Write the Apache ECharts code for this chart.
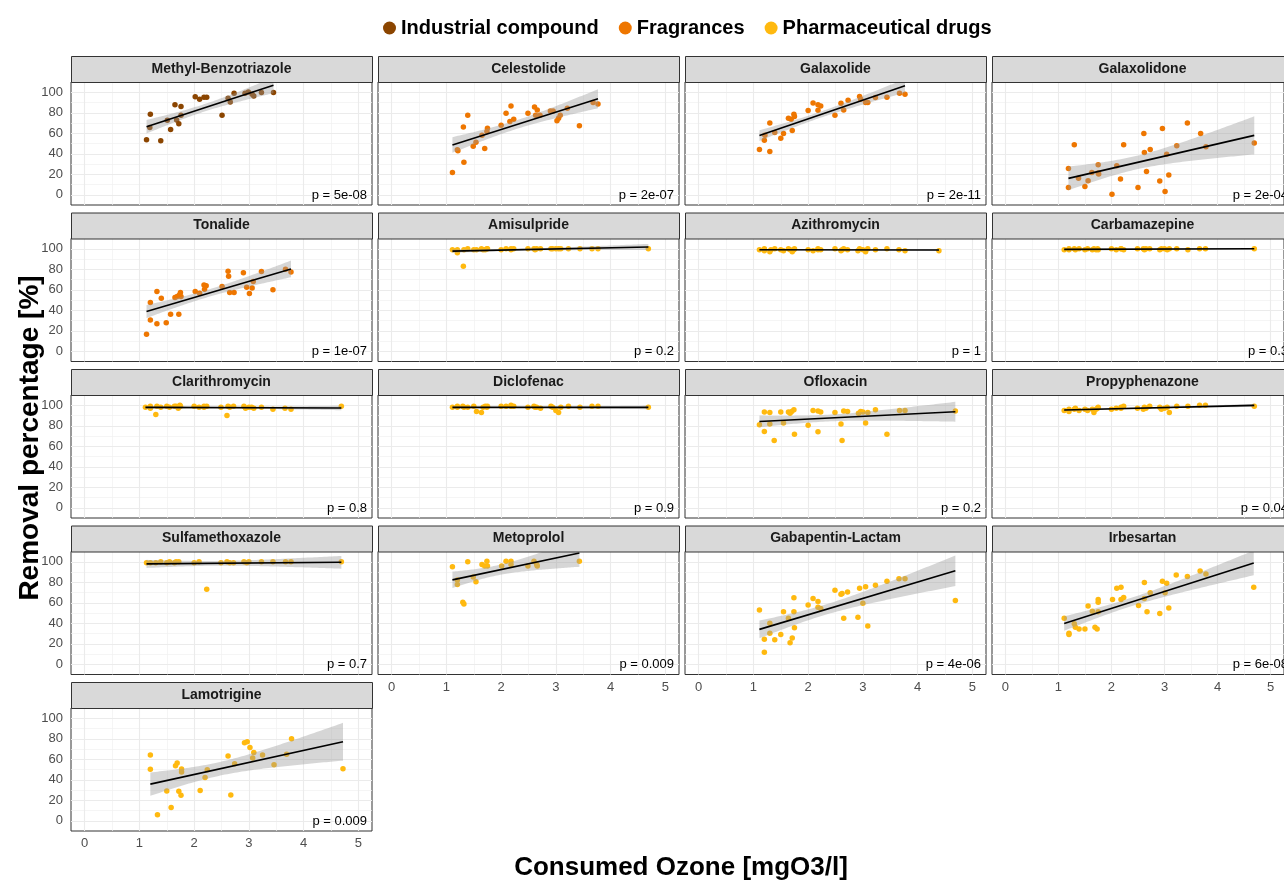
<!DOCTYPE html>
<html>
<head>
<meta charset="utf-8">
<script src="https://cdn.jsdelivr.net/npm/echarts@6/dist/echarts.min.js"></script>
<style>
html, body { margin: 0; padding: 0; background: #fff; }
#chart { width: 1284px; height: 880px; }
</style>
</head>
<body>
<div id="chart"></div>
<script>
// facet titles, in reading order
const compounds = [
    'Methyl-Benzotriazole', 'Celestolide', 'Galaxolide', 'Galaxolidone',
    'Tonalide', 'Amisulpride', 'Azithromycin', 'Carbamazepine',
    'Clarithromycin', 'Diclofenac', 'Ofloxacin', 'Propyphenazone',
    'Sulfamethoxazole', 'Metoprolol', 'Gabapentin-Lactam', 'Irbesartan',
    'Lamotrigine'
];
const groups = ['Industrial compound', 'Fragrances', 'Pharmaceutical drugs'];
const compoundGroup = [0, 1, 1, 1, 1, 2, 2, 2, 2, 2, 2, 2, 2, 2, 2, 2, 2];
const pValues = [
    'p = 5e-08', 'p = 2e-07', 'p = 2e-11', 'p = 2e-04',
    'p = 1e-07', 'p = 0.2', 'p = 1', 'p = 0.3',
    'p = 0.8', 'p = 0.9', 'p = 0.2', 'p = 0.04',
    'p = 0.7', 'p = 0.009', 'p = 4e-06', 'p = 6e-08',
    'p = 0.009'
];
const xTicks = [0, 1, 2, 3, 4, 5];
const yTicks = [0, 20, 40, 60, 80, 100];
const xGridMajor = [0, 1, 2, 3, 4, 5];
const xGridMinor = [0.5, 1.5, 2.5, 3.5, 4.5];
const yGridMajor = [0, 20, 40, 60, 80, 100];
const yGridMinor = [10, 30, 50, 70, 90];

// measured points [consumed ozone, removal %]
const methylBenzotriazole = [[1.13,53.6],[1.20,78.6],[1.19,65.6],[1.39,52.6],[1.51,72.7],[1.57,63.6],[1.65,87.7],[1.68,73],[1.72,69.2],[1.76,86],[1.76,77.6],[2.02,95.5],[2.10,93.2],[2.18,95.1],[2.23,95.1],[2.51,77.6],[2.62,94.2],[2.66,90.6],[2.73,99],[2.93,99],[2.99,100.3],[3.06,98],[3.09,96.4],[3.23,99.7],[3.45,99.7]];
const celestolide = [[1.11,21.8],[1.20,43.8],[1.21,42.9],[1.32,31.8],[1.31,66.2],[1.39,77.6],[1.49,47.4],[1.54,51.3],[1.65,58.1],[1.70,45.1],[1.74,61.7],[1.75,64.9],[2.00,67.9],[2.09,79.5],[2.16,71.4],[2.23,73.7],[2.18,86.7],[2.49,79.5],[2.61,85.7],[2.66,82.8],[2.63,77.6],[2.71,77.6],[2.90,81.8],[2.95,81.8],[3.02,72.1],[3.05,74.7],[3.08,77.6],[3.21,84.4],[3.43,67.2],[3.68,89.9],[3.77,88.6]];
const galaxolide = [[1.11,44.2],[1.20,53.2],[1.21,58.1],[1.30,42.2],[1.30,70.1],[1.39,60.7],[1.50,55.2],[1.55,59.7],[1.64,74.7],[1.69,73.7],[1.71,62.7],[1.74,78.6],[1.75,76.3],[2.00,82.1],[2.09,89.6],[2.18,87.7],[2.18,82.5],[2.23,86.7],[2.49,77.6],[2.60,89.3],[2.65,82.8],[2.73,92.2],[2.94,95.8],[2.96,93.2],[3.05,89.9],[3.09,89.9],[3.23,94.8],[3.44,95.1],[3.67,99],[3.77,98]];
const galaxolidone = [[1.19,25.6],[1.19,7.1],[1.30,48.7],[1.38,16.2],[1.50,8.1],[1.56,13.6],[1.63,21.8],[1.75,29.2],[1.75,21.1],[1.76,20.2],[2.01,0.6],[2.10,28.2],[2.17,15.3],[2.23,48.7],[2.50,7.1],[2.61,59.7],[2.62,41.2],[2.66,22.7],[2.73,44.2],[2.91,13.3],[2.96,64.6],[3.01,3.2],[3.04,39.6],[3.08,19.2],[3.23,47.7],[3.43,70.1],[3.68,59.7],[3.78,46.8],[4.69,50.6]];
const tonalide = [[1.13,16.5],[1.20,47.6],[1.20,30.4],[1.32,58.3],[1.32,26.9],[1.40,51.8],[1.49,27.8],[1.57,36.2],[1.65,52.4],[1.69,53.4],[1.72,36.2],[1.73,55],[1.75,57.3],[1.76,53.4],[2.02,58.3],[2.10,56.6],[2.18,64.7],[2.22,63.8],[2.19,60.5],[2.51,63.1],[2.62,78],[2.63,73.1],[2.65,57.3],[2.73,57.3],[2.90,76.7],[2.96,62.5],[3.01,56.3],[3.06,61.8],[3.08,68],[3.23,77.7],[3.44,59.9],[3.67,79.9],[3.77,77.3]];
const amisulpride = [[1.11,99],[1.20,96],[1.20,99],[1.31,83],[1.32,99],[1.39,100],[1.50,99],[1.55,99],[1.64,100],[1.67,99],[1.71,99],[1.74,100],[1.75,100],[2.00,99],[2.09,100],[2.18,100],[2.18,99],[2.23,100],[2.49,100],[2.60,100],[2.62,99],[2.65,100],[2.72,100],[2.91,100],[2.94,100],[3.00,100],[3.05,100],[3.09,100],[3.23,100],[3.44,100],[3.66,100],[3.77,100],[4.69,100]];
const azithromycin = [[1.11,99],[1.20,98],[1.20,100],[1.30,97],[1.32,99],[1.39,100],[1.50,99],[1.55,98],[1.64,100],[1.67,99],[1.71,97],[1.74,99],[1.75,100],[2.00,99],[2.09,98],[2.18,100],[2.18,99],[2.23,99],[2.49,100],[2.60,98],[2.62,99],[2.65,100],[2.72,99],[2.91,98],[2.94,100],[3.00,99],[3.05,97],[3.09,100],[3.23,99],[3.44,100],[3.66,99],[3.77,98],[4.39,98]];
const carbamazepine = [[1.11,99],[1.20,100],[1.20,99],[1.30,100],[1.32,99],[1.39,100],[1.50,99],[1.55,100],[1.64,99],[1.67,100],[1.71,99],[1.74,100],[1.75,99],[2.00,100],[2.09,99],[2.18,100],[2.18,100],[2.23,99],[2.49,100],[2.60,100],[2.62,99],[2.65,100],[2.72,100],[2.91,99],[2.94,100],[3.00,100],[3.05,99],[3.09,100],[3.23,100],[3.44,99],[3.66,100],[3.77,100],[4.69,100]];
const clarithromycin = [[1.11,98],[1.20,99],[1.20,97],[1.30,91],[1.32,99],[1.39,98],[1.50,99],[1.55,98],[1.64,99],[1.67,99],[1.71,97],[1.74,100],[1.75,99],[2.00,99],[2.09,98],[2.18,99],[2.18,98],[2.23,99],[2.49,98],[2.60,90],[2.62,99],[2.65,98],[2.72,99],[2.91,99],[2.94,97],[3.00,98],[3.05,98],[3.09,97],[3.23,98],[3.44,96],[3.66,97],[3.77,96],[4.69,99]];
const diclofenac = [[1.11,98],[1.20,99],[1.20,98],[1.30,99],[1.32,98],[1.39,98],[1.50,99],[1.55,94],[1.64,93],[1.67,98],[1.71,99],[1.74,98],[1.75,99],[2.00,99],[2.09,99],[2.18,100],[2.18,99],[2.23,99],[2.49,98],[2.60,99],[2.62,98],[2.65,98],[2.72,97],[2.91,99],[2.94,98],[3.00,95],[3.05,93],[3.09,98],[3.23,99],[3.44,98],[3.66,99],[3.77,99],[4.69,98]];
const ofloxacin = [[1.11,81],[1.20,93.5],[1.20,74.5],[1.30,92.9],[1.30,81.6],[1.38,65.5],[1.50,93.5],[1.55,82.6],[1.64,93.5],[1.67,92.3],[1.70,93.9],[1.74,95.5],[1.75,71.6],[2.00,80.6],[2.09,94.8],[2.18,94.5],[2.23,93.5],[2.18,74.2],[2.49,92.9],[2.60,81.6],[2.62,65.5],[2.65,94.5],[2.72,93.9],[2.92,92.3],[2.96,93.9],[3.00,93.5],[3.05,82.6],[3.09,92.9],[3.23,95.5],[3.44,71.6],[3.67,94.8],[3.77,94.8],[4.69,94.5]];
const propyphenazone = [[1.11,95],[1.20,96],[1.20,94],[1.30,96],[1.32,97],[1.39,95],[1.50,96],[1.55,95],[1.64,96],[1.67,93],[1.71,96],[1.74,97],[1.75,98],[2.00,96],[2.09,97],[2.18,98],[2.18,97],[2.23,99],[2.49,97],[2.60,96],[2.62,98],[2.65,97],[2.72,99],[2.91,98],[2.94,96],[3.00,97],[3.05,98],[3.09,93],[3.23,99],[3.44,99],[3.66,100],[3.77,100],[4.69,99]];
const sulfamethoxazole = [[1.13,99],[1.20,99],[1.30,99],[1.39,100],[1.50,99],[1.55,100],[1.64,99],[1.67,100],[1.72,100],[2.00,99],[2.09,100],[2.23,73.2],[2.49,99],[2.60,100],[2.65,99],[2.72,99],[2.91,100],[2.96,99],[3.00,100],[3.23,100],[3.44,100],[3.67,100],[3.77,100],[4.69,100]];
const metoprolol = [[1.11,95.2],[1.20,82.3],[1.20,77.7],[1.30,60.6],[1.32,58.7],[1.39,100],[1.49,85.2],[1.54,80.6],[1.65,97.4],[1.70,95.8],[1.74,100.6],[1.75,95.8],[2.01,95.8],[2.09,100.6],[2.18,100.6],[2.18,97.4],[2.49,95.8],[2.60,100.6],[2.65,97.4],[2.66,95.8],[3.43,100.6]];
const gabapentinLactam = [[1.11,52.9],[1.20,24.5],[1.20,11.6],[1.30,40],[1.30,30.3],[1.39,23.9],[1.50,29],[1.55,51.3],[1.64,44.8],[1.67,21],[1.71,25.5],[1.74,64.8],[1.74,51.3],[1.75,35.5],[2.00,57.7],[2.09,64.2],[2.18,61.3],[2.18,55.5],[2.23,54.5],[2.49,72.3],[2.60,68.4],[2.62,69],[2.65,44.8],[2.72,70.6],[2.91,45.8],[2.94,74.2],[3.00,59.4],[3.05,75.5],[3.09,37.4],[3.23,77.1],[3.44,81],[3.66,83.5],[3.77,83.5],[4.69,62.3]];
const irbesartan = [[1.11,44.8],[1.20,30.3],[1.20,29],[1.30,39.4],[1.32,36.1],[1.39,34.5],[1.50,34.5],[1.56,56.8],[1.64,51.6],[1.69,36.1],[1.73,34.5],[1.75,63.2],[1.75,60.6],[1.75,51.3],[2.02,63.2],[2.10,74.2],[2.18,75.2],[2.18,63.2],[2.23,65.2],[2.51,57.4],[2.62,79.7],[2.62,64.2],[2.67,51.3],[2.73,69.7],[2.91,49.4],[2.96,81],[3.01,69.7],[3.04,79],[3.08,54.8],[3.22,87.1],[3.43,85.5],[3.67,91],[3.78,88.1],[4.68,75.2]];
const lamotrigine = [[1.20,64.1],[1.20,50.2],[1.33,5.8],[1.50,29.1],[1.58,12.9],[1.66,53.7],[1.69,56.3],[1.72,28.8],[1.76,24.9],[1.77,50.5],[1.77,47.6],[2.11,29.4],[2.20,42.1],[2.24,49.8],[2.62,63.1],[2.67,25.2],[2.74,55.7],[2.92,76],[2.97,77],[3.02,71.5],[3.07,61.2],[3.09,66.7],[3.25,64.1],[3.46,54.7],[3.69,65],[3.78,79.9],[4.72,50.8]];

const panelData = [
    methylBenzotriazole, celestolide, galaxolide, galaxolidone,
    tonalide, amisulpride, azithromycin, carbamazepine,
    clarithromycin, diclofenac, ofloxacin, propyphenazone,
    sulfamethoxazole, metoprolol, gabapentinLactam, irbesartan,
    lamotrigine
];

const groupColors = ['#8B4500', '#EE7600', '#FFB90F'];
const FONT = '"Liberation Sans", Arial, sans-serif';

// panel geometry (pixels)
const colLeft = [71, 378, 685, 992];
const panelW = 301;
const plotTop0 = 82;
const rowPitch = 156.5;
const plotH = 123;
const stripH = 26;

// t quantile (0.975) approximation
function tQuantile(df) {
    const z = 1.959964;
    return z + (z ** 3 + z) / (4 * df) +
        (5 * z ** 5 + 16 * z ** 3 + 3 * z) / (96 * df * df) +
        (3 * z ** 7 + 19 * z ** 5 + 17 * z ** 3 - 15 * z) / (384 * df ** 3);
}

// ordinary least squares + 95% confidence band, like geom_smooth(method = "lm")
function linFit(pts) {
    const n = pts.length;
    const xbar = pts.reduce((s, p) => s + p[0], 0) / n;
    const ybar = pts.reduce((s, p) => s + p[1], 0) / n;
    let sxx = 0, sxy = 0;
    pts.forEach(p => { sxx += (p[0] - xbar) ** 2; sxy += (p[0] - xbar) * (p[1] - ybar); });
    const b = sxy / sxx;
    const a = ybar - b * xbar;
    let rss = 0;
    pts.forEach(p => { rss += (p[1] - a - b * p[0]) ** 2; });
    const s = Math.sqrt(rss / (n - 2));
    const t = tQuantile(n - 2);
    const xs = pts.map(p => p[0]);
    return {
        a, b,
        xmin: Math.min(...xs),
        xmax: Math.max(...xs),
        half: x => t * s * Math.sqrt(1 / n + (x - xbar) ** 2 / sxx)
    };
}

const chart = echarts.init(document.getElementById('chart'));

const grids = [], xAxes = [], yAxes = [], series = [], graphics = [];

const majorStyle = { color: '#EBEBEB', width: 1.1, type: 'solid' };
const minorStyle = { color: '#F0F0F0', width: 0.7, type: 'solid' };

compounds.forEach((name, i) => {
    const r = Math.floor(i / 4), c = i % 4;
    const left = colLeft[c];
    const top = plotTop0 + r * rowPitch;
    const showX = i >= 13;
    const showY = c === 0;

    grids.push({
        left: left, top: top, width: panelW, height: plotH,
        show: true, backgroundColor: '#fff',
        borderColor: '#333333', borderWidth: 1, containLabel: false
    });

    xAxes.push({
        type: 'value', gridIndex: i, min: -0.25, max: 5.25, splitNumber: 5,
        axisLine: { show: false },
        axisTick: { show: showX, length: 4, customValues: xTicks, lineStyle: { color: '#333333' } },
        axisLabel: { show: showX, customValues: xTicks, color: '#4D4D4D', fontSize: 13, margin: 6, fontFamily: FONT },
        splitLine: { show: false },
        minorSplitLine: { show: false }
    });
    yAxes.push({
        type: 'value', gridIndex: i, min: -10, max: 110, splitNumber: 6,
        axisLine: { show: false },
        axisTick: { show: showY, length: 4, customValues: yTicks, lineStyle: { color: '#333333' } },
        axisLabel: { show: showY, customValues: yTicks, color: '#4D4D4D', fontSize: 13, margin: 8, fontFamily: FONT },
        splitLine: { show: false },
        minorSplitLine: { show: false }
    });

    // background grid lines
    series.push({
        type: 'line', xAxisIndex: i, yAxisIndex: i, data: [], z: 1, silent: true,
        markLine: {
            silent: true, symbol: 'none', animation: false, z: 1,
            label: { show: false },
            data: []
                .concat(xGridMinor.map(v => ({ xAxis: v, lineStyle: minorStyle })))
                .concat(yGridMinor.map(v => ({ yAxis: v, lineStyle: minorStyle })))
                .concat(xGridMajor.map(v => ({ xAxis: v, lineStyle: majorStyle })))
                .concat(yGridMajor.map(v => ({ yAxis: v, lineStyle: majorStyle })))
        }
    });

    const pts = panelData[i];
    const g = compoundGroup[i];
    const fit = linFit(pts);

    series.push({
        type: 'scatter', name: groups[g], xAxisIndex: i, yAxisIndex: i,
        data: pts, symbolSize: 5.5, z: 6,
        itemStyle: { color: groupColors[g], opacity: 1 },
        silent: true
    });

    // confidence band
    series.push({
        type: 'custom', xAxisIndex: i, yAxisIndex: i, z: 7, silent: true, clip: true,
        data: [[fit.xmin, fit.a + fit.b * fit.xmin]],
        renderItem: (params, api) => {
            const upper = [], lower = [];
            const steps = 80;
            for (let k = 0; k <= steps; k++) {
                const x = fit.xmin + (fit.xmax - fit.xmin) * k / steps;
                const y = fit.a + fit.b * x;
                upper.push(api.coord([x, y + fit.half(x)]));
                lower.unshift(api.coord([x, y - fit.half(x)]));
            }
            const cs = params.coordSys;
            return {
                type: 'group',
                clipPath: { type: 'rect', shape: { x: cs.x, y: cs.y, width: cs.width, height: cs.height } },
                children: [{
                    type: 'polygon',
                    shape: { points: upper.concat(lower) },
                    style: { fill: 'rgba(153,153,153,0.4)' }
                }]
            };
        }
    });

    // fitted line
    series.push({
        type: 'line', xAxisIndex: i, yAxisIndex: i, z: 8, silent: true,
        showSymbol: false, clip: true,
        data: [[fit.xmin, fit.a + fit.b * fit.xmin], [fit.xmax, fit.a + fit.b * fit.xmax]],
        lineStyle: { color: '#000', width: 1.6 }
    });

    // strip header
    graphics.push({
        type: 'rect', left: left, top: top - stripH, z: 100,
        shape: { width: panelW, height: stripH },
        style: { fill: '#D9D9D9', stroke: '#333333', lineWidth: 1 }
    });
    graphics.push({
        type: 'text', x: left + panelW / 2, y: top - stripH / 2, z: 101,
        style: {
            text: name, font: 'bold 14px ' + FONT, fill: '#1A1A1A',
            align: 'center', verticalAlign: 'middle',
            textAlign: 'center', textVerticalAlign: 'middle'
        }
    });
    // p value
    graphics.push({
        type: 'text', x: left + panelW - 5, y: top + plotH - 10, z: 101,
        style: {
            text: pValues[i], font: '13px ' + FONT, fill: '#000',
            align: 'right', verticalAlign: 'middle',
            textAlign: 'right', textVerticalAlign: 'middle'
        }
    });
});

// axis titles
graphics.push({
    type: 'text', x: 30, y: 438, rotation: Math.PI / 2, z: 101,
    style: {
        text: 'Removal percentage [%]', font: 'bold 28px ' + FONT, fill: '#000',
        align: 'center', verticalAlign: 'middle', textAlign: 'center', textVerticalAlign: 'middle'
    }
});
graphics.push({
    type: 'text', x: 681, y: 868, z: 101,
    style: {
        text: 'Consumed Ozone [mgO3/l]', font: 'bold 26px ' + FONT, fill: '#000',
        align: 'center', verticalAlign: 'middle', textAlign: 'center', textVerticalAlign: 'middle'
    }
});

const option = {
    animation: false,
    backgroundColor: '#fff',
    legend: {
        data: groups,
        top: 13,
        left: 378,
        icon: 'circle',
        itemWidth: 13,
        itemHeight: 13,
        itemGap: 20,
        textStyle: { fontSize: 20, fontWeight: 'bold', color: '#000', fontFamily: FONT }
    },
    grid: grids,
    xAxis: xAxes,
    yAxis: yAxes,
    series: series,
    graphic: graphics
};

chart.setOption(option);
window.addEventListener('resize', () => chart.resize());
</script>
</body>
</html>
